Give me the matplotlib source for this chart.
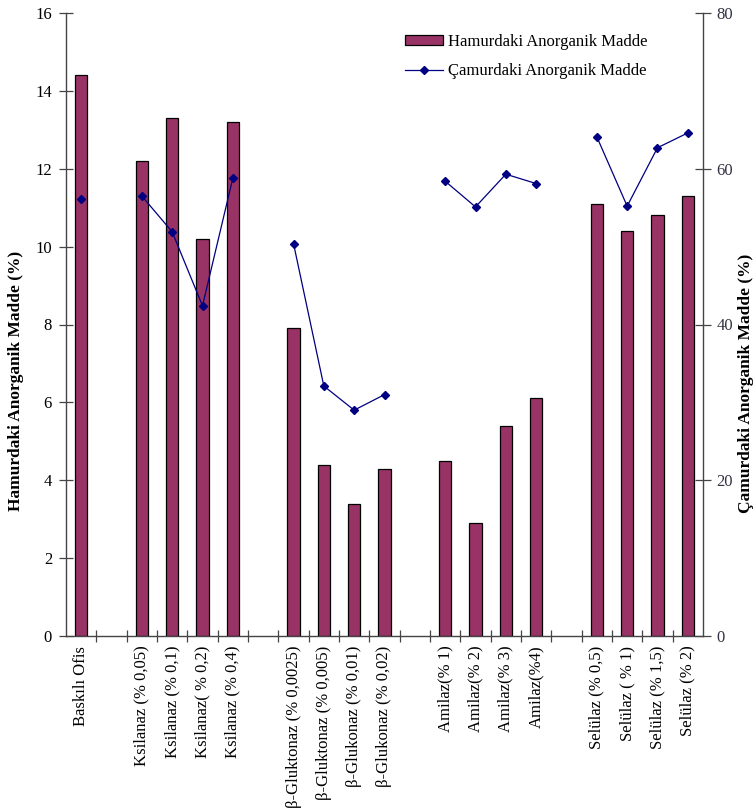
import numpy as np
import matplotlib
matplotlib.use("Agg")
import matplotlib.pyplot as plt
from matplotlib.patches import Patch
from matplotlib.lines import Line2D

plt.rcParams["font.family"] = ["Liberation Serif", "DejaVu Serif"]

# Empty strings are spacer slots between enzyme groups
categories = [
    "Baskılı Ofis", "",
    "Ksilanaz (% 0,05)", "Ksilanaz (% 0,1)", "Ksilanaz( % 0,2)", "Ksilanaz (% 0,4)", "",
    "β-Gluktonaz (% 0,0025)", "β-Gluktonaz (% 0,005)", "β-Glukonaz (% 0,01)", "β-Glukonaz (% 0,02)", "",
    "Amilaz(% 1)", "Amilaz(% 2)", "Amilaz(% 3)", "Amilaz(%4)", "",
    "Selülaz (% 0,5)", "Selülaz ( % 1)", "Selülaz (% 1,5)", "Selülaz (% 2)",
]

# Inorganic matter in pulp (%), left axis
hamur = [
    14.4, None,
    12.2, 13.3, 10.2, 13.2, None,
    7.9, 4.4, 3.4, 4.3, None,
    4.5, 2.9, 5.4, 6.1, None,
    11.1, 10.4, 10.8, 11.3,
]

# Inorganic matter in sludge (%), right axis
camur = [
    56.1, None,
    56.5, 51.9, 42.4, 58.8, None,
    50.4, 32.1, 29.0, 31.0, None,
    58.4, 55.1, 59.3, 58.1, None,
    64.1, 55.2, 62.7, 64.6,
]

bar_label = "Hamurdaki Anorganik Madde"
line_label = "Çamurdaki Anorganik Madde"
left_ylabel = "Hamurdaki Anorganik Madde (%)"
right_ylabel = "Çamurdaki Anorganik Madde (%)"

left_ticks = [0, 2, 4, 6, 8, 10, 12, 14, 16]
right_ticks = [0, 20, 40, 60, 80]

BAR_COLOR = "#993366"
LINE_COLOR = "#000080"
SPINE_COLOR = "#444444"

x = np.arange(len(categories))
h = np.array([np.nan if v is None else v for v in hamur], dtype=float)
c = np.array([np.nan if v is None else v for v in camur], dtype=float)
has_bar = ~np.isnan(h)

fig = plt.figure(figsize=(7.54, 8.10), dpi=100)
ax = fig.add_axes([66 / 754, 1 - 636 / 810, (703 - 66) / 754, (636 - 13) / 810])

ax.bar(x[has_bar], h[has_bar], width=0.4, color=BAR_COLOR, edgecolor="black",
       linewidth=0.9, zorder=2)
ax.set_xlim(-0.5, len(categories) - 0.5)
ax.set_ylim(0, 16)
ax.set_yticks(left_ticks)
ax.set_yticklabels([str(t) for t in left_ticks], fontsize=12)

ax.set_xticks(x)
ax.set_xticklabels(categories, rotation=90, fontsize=12, va="top")
ax.set_xticks(x[:-1] + 0.5, minor=True)
ax.tick_params(axis="x", which="major", length=0, pad=7)
ax.tick_params(axis="x", which="minor", direction="inout", length=8,
               width=0.9, color=SPINE_COLOR)
ax.tick_params(axis="y", direction="inout", length=10, width=0.9,
               color=SPINE_COLOR, pad=5)

for side in ("left", "bottom"):
    ax.spines[side].set_color(SPINE_COLOR)
    ax.spines[side].set_linewidth(1.0)
ax.spines["top"].set_visible(False)
ax.spines["right"].set_visible(False)

ax.set_ylabel(left_ylabel, fontsize=12.5, fontweight="bold")
ax.yaxis.set_label_coords(-0.066, 0.41)

ax2 = ax.twinx()
ax2.plot(x, c, color=LINE_COLOR, lw=0.9, marker="D", markersize=4.5,
         markerfacecolor=LINE_COLOR, markeredgecolor=LINE_COLOR, zorder=3)
ax2.set_ylim(0, 80)
ax2.set_yticks(right_ticks)
ax2.set_yticklabels([str(t) for t in right_ticks], fontsize=12, color="#333344")
ax2.tick_params(axis="y", direction="inout", length=11, width=0.9,
                color=SPINE_COLOR, pad=4)
ax2.spines["right"].set_color(SPINE_COLOR)
ax2.spines["right"].set_linewidth(1.0)
for side in ("top", "left", "bottom"):
    ax2.spines[side].set_visible(False)
ax2.set_ylabel(right_ylabel, fontsize=12.5, fontweight="bold", rotation=90,
               va="center")
ax2.yaxis.set_label_coords(1.067, 0.405)

handles = [
    Patch(facecolor=BAR_COLOR, edgecolor="black", linewidth=0.9),
    Line2D([0], [0], color=LINE_COLOR, lw=0.9, marker="D", markersize=4.5),
]
fig.legend(handles, [bar_label, line_label], loc="upper left",
           bbox_to_anchor=(405 / 754, 1 - 34 / 810), frameon=False,
           fontsize=12, handlelength=2.3, handleheight=0.5,
           handletextpad=0.3, labelspacing=0.8, borderpad=0, borderaxespad=0)

fig.savefig("out.png", dpi=100)
